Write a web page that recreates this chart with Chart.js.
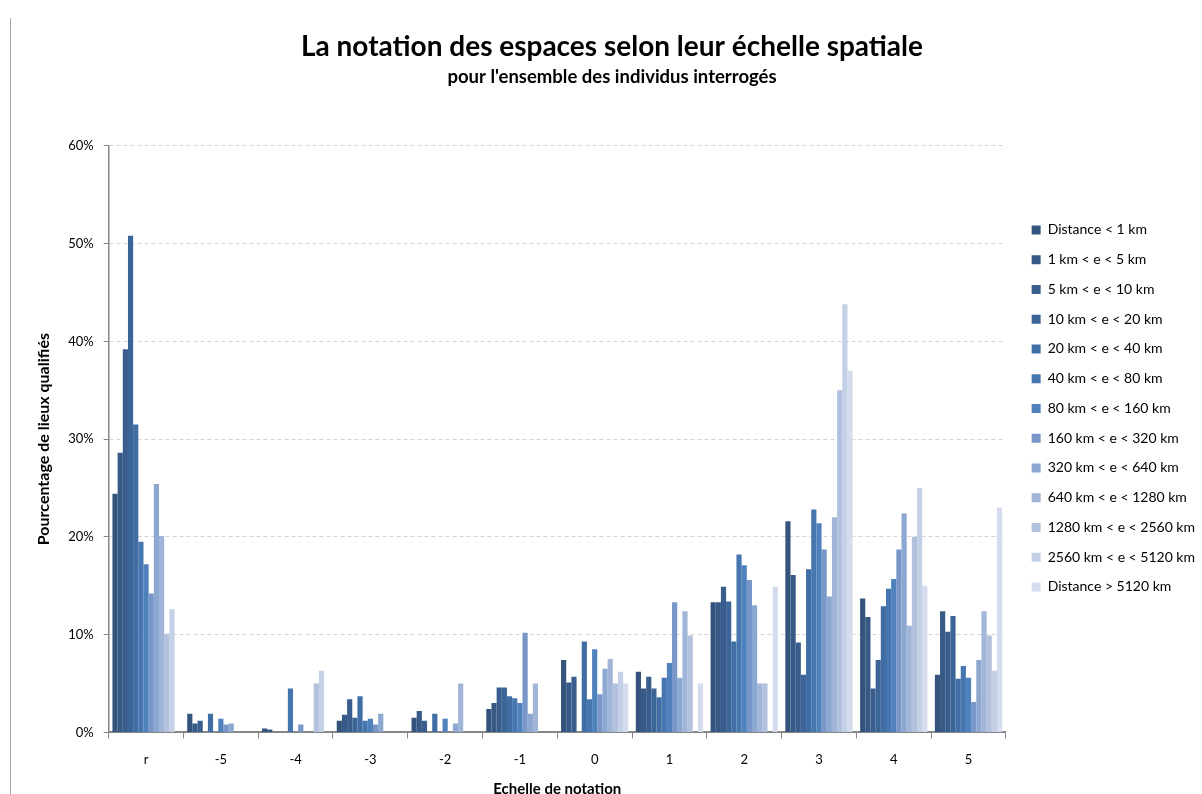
<!DOCTYPE html>
<html lang="fr">
<head>
<meta charset="utf-8">
<title>Notation des espaces selon leur échelle spatiale</title>
<script src="https://cdn.jsdelivr.net/npm/chart.js@4.4.1/dist/chart.umd.min.js"></script>
<style>
  html, body { margin: 0; padding: 0; background: #fff; }
  #cadre { position: relative; width: 1202px; height: 794px; }
  #cadre::before { content: ""; position: absolute; left: 10px; top: 18px; bottom: 0; border-left: 1px solid #a6a6a6; }
  canvas { display: block; }
</style>
</head>
<body>
<div id="cadre"><canvas id="graficoNotes" width="1202" height="794"></canvas></div>
<script>
// Notes (r = refus de noter, puis -5 à 5)
const notes = ["r", "-5", "-4", "-3", "-2", "-1", "0", "1", "2", "3", "4", "5"];

// Libellés des classes de distance
const classesDistance = [
  "Distance < 1 km",
  "1 km < e < 5 km",
  "5 km < e < 10 km",
  "10 km < e < 20 km",
  "20 km < e < 40 km",
  "40 km < e < 80 km",
  "80 km < e < 160 km",
  "160 km < e < 320 km",
  "320 km < e < 640 km",
  "640 km < e < 1280 km",
  "1280 km < e < 2560 km",
  "2560 km < e < 5120 km",
  "Distance > 5120 km",
];

// Pourcentage de lieux qualifiés, une liste par classe de distance
const moins1km = [24.4, 1.9, 0.4, 1.2, 1.5, 2.4, 7.4, 6.2, 13.3, 21.6, 13.7, 5.9];
const de1a5km = [28.6, 0.9, 0.3, 1.8, 2.2, 3.0, 5.1, 4.5, 13.3, 16.1, 11.8, 12.4];
const de5a10km = [39.2, 1.2, 0, 3.4, 1.2, 4.6, 5.7, 5.7, 14.9, 9.2, 4.5, 10.3];
const de10a20km = [50.8, 0, 0, 1.5, 0, 4.6, 0, 4.5, 13.4, 5.9, 7.4, 11.9];
const de20a40km = [31.5, 1.9, 0, 3.7, 1.9, 3.7, 9.3, 3.6, 9.3, 16.7, 12.9, 5.5];
const de40a80km = [19.5, 0, 4.5, 1.2, 0, 3.5, 3.4, 5.6, 18.2, 22.8, 14.7, 6.8];
const de80a160km = [17.2, 1.4, 0, 1.4, 1.4, 3.0, 8.5, 7.1, 17.1, 21.4, 15.7, 5.6];
const de160a320km = [14.2, 0.8, 0.8, 0.8, 0, 10.2, 3.9, 13.3, 15.6, 18.7, 18.7, 3.1];
const de320a640km = [25.4, 0.9, 0, 1.9, 0.9, 1.9, 6.5, 5.6, 13.0, 13.9, 22.4, 7.4];
const de640a1280km = [20.1, 0, 0, 0, 5.0, 5.0, 7.5, 12.4, 5.0, 22.0, 10.9, 12.4];
const de1280a2560km = [10.1, 0, 5.0, 0, 0, 0, 5.0, 9.9, 5.0, 35.0, 20.0, 9.9];
const de2560a5120km = [12.6, 0, 6.3, 0, 0, 0, 6.2, 0, 0, 43.8, 25.0, 6.3];
const plus5120km = [0, 0, 0, 0, 0, 0, 5.0, 5.0, 14.9, 37.0, 15.0, 23.0];

// Graduations de l'axe vertical (en %)
const graduations = [0, 10, 20, 30, 40, 50, 60];

const series = [
  moins1km, de1a5km, de5a10km, de10a20km, de20a40km, de40a80km, de80a160km,
  de160a320km, de320a640km, de640a1280km, de1280a2560km, de2560a5120km, plus5120km,
];

// Dégradé du bleu foncé au bleu très clair
const couleurs = [
  "#34547d", "#365985", "#395e8e", "#3c6597", "#406da3", "#4576b0", "#4f81bd",
  "#7897c8", "#8ca7d0", "#a0b5d7", "#b2c2de", "#c4d0e6", "#d4dced",
];

const police = "Lato, 'Open Sans', sans-serif";

const ctx = document.getElementById("graficoNotes").getContext("2d");

new Chart(ctx, {
  type: "bar",
  data: {
    labels: notes,
    datasets: series.map((valeurs, i) => ({
      label: classesDistance[i],
      data: valeurs,
      backgroundColor: couleurs[i],
      borderWidth: 0,
      categoryPercentage: 0.9,
      barPercentage: 1.0,
    })),
  },
  options: {
    responsive: false,
    animation: false,
    layout: {
      // la légende touche presque le bord droit
      padding: { left: 19, right: -3, top: 0, bottom: -3 },
    },
    plugins: {
      title: {
        display: true,
        text: "La notation des espaces selon leur échelle spatiale",
        color: "#000",
        font: { family: police, size: 28, weight: "bold" },
        padding: { top: 30, bottom: 0 },
      },
      subtitle: {
        display: true,
        text: "pour l'ensemble des individus interrogés",
        color: "#000",
        font: { family: police, size: 18.5, weight: "bold" },
        padding: { top: 2, bottom: 58 },
      },
      legend: {
        position: "right",
        align: "start",
        fullSize: false,
        title: {
          display: true,
          text: "",
          padding: { top: 47, bottom: 0 },
          font: { family: police, size: 12 },
        },
        labels: {
          boxWidth: 9,
          boxHeight: 9,
          padding: 15.75,
          color: "#000",
          font: { family: police, size: 14 },
        },
      },
      tooltip: { enabled: false },
    },
    scales: {
      x: {
        grid: {
          offset: true,
          drawOnChartArea: false,
          drawTicks: true,
          tickLength: 6,
          color: "#868686",
        },
        border: { color: "#868686", width: 2 },
        ticks: {
          color: "#000",
          padding: 14,
          font: { family: police, size: 13 },
        },
        title: {
          display: true,
          text: "Echelle de notation",
          color: "#000",
          font: { family: police, size: 15, weight: "bold", lineHeight: 1 },
          padding: { top: 0, bottom: 0 },
        },
      },
      y: {
        min: 0,
        max: 60,
        afterBuildTicks: (axe) => {
          axe.ticks = graduations.map((v) => ({ value: v }));
        },
        grid: {
          color: "#d4d4d4",
          tickColor: "#868686",
          tickLength: 5,
        },
        border: { color: "#868686", width: 1.5, dash: [4, 3] },
        ticks: {
          color: "#000",
          padding: 10,
          font: { family: police, size: 13 },
          callback: (v) => v + "%",
        },
        title: {
          display: true,
          text: "Pourcentage de lieux qualifiés",
          color: "#000",
          font: { family: police, size: 16, weight: "bold" },
          padding: { top: 15, bottom: 5 },
        },
      },
      // marge entre la zone de tracé et la légende
      ecart: {
        type: "linear",
        position: "right",
        display: true,
        grid: { display: false },
        border: { display: false },
        ticks: { display: false },
        afterFit: (axe) => {
          axe.width = 10;
        },
      },
    },
  },
});
</script>
</body>
</html>
